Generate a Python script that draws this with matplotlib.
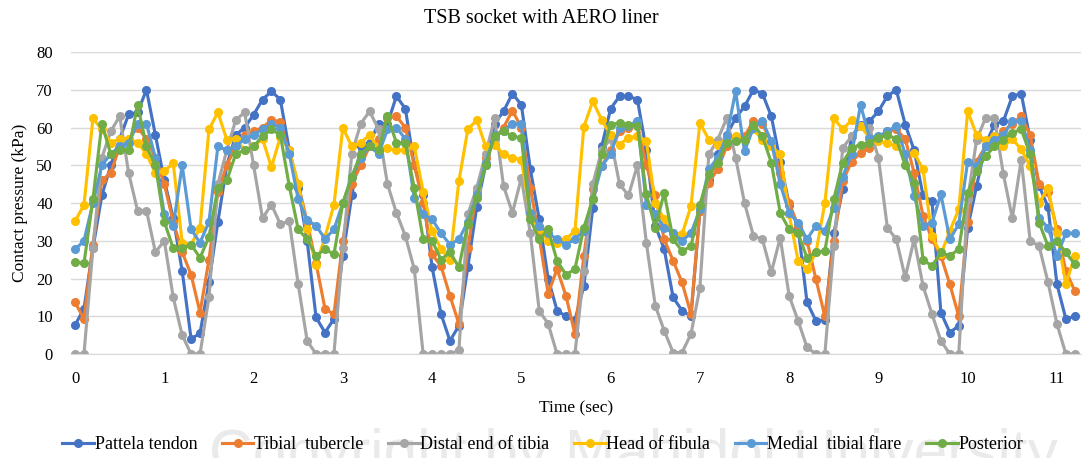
import numpy as np
import matplotlib
matplotlib.use("Agg")
import matplotlib.pyplot as plt

# sample times, 0.1 s apart
time_sec = [round(i * 0.1, 1) for i in range(113)]

pattela_tendon = [
    7.7, 12, 28, 42, 50, 57, 63.5, 64, 70, 58,
    46, 36, 22, 4, 5.5, 19, 35, 50, 58, 60,
    63.4, 67.4, 69.6, 67.4, 54, 44, 30, 9.7, 5.7, 9.3,
    26, 42, 55, 56, 61, 61, 68.3, 65, 50, 42,
    23, 10.6, 3.5, 7.5, 23, 39, 50, 61, 64.3, 69,
    66, 49, 35.7, 20, 11.5, 10, 9, 18, 38.8, 55,
    65, 68.3, 68.3, 67.4, 54, 34, 27.8, 15, 11.5, 10,
    38, 46, 53, 58, 62.5, 65.6, 70, 69, 63, 51,
    39.6, 33.5, 13.7, 8.8, 9, 32, 43.6, 57.7, 60.8, 61.7,
    64.3, 68.3, 70, 60.8, 54, 42, 40.5, 11, 5.7, 7.5,
    33.5, 44.5, 55.5, 60.8, 61.7, 68.3, 69, 56.8, 44.5, 39,
    18.5, 9.3, 10,
]

tibial_tubercle = [
    13.7, 9.3, 29, 46, 48, 55, 57, 60, 57, 52,
    45, 35, 27, 21, 11, 25, 43, 50, 55, 58,
    59, 60, 62, 61.5, 53, 45, 35, 24, 12, 10.5,
    30, 45, 50, 55, 57, 62.5, 63, 60, 50, 40,
    26.4, 23.3, 15.4, 8, 28, 43, 52, 57, 60, 64.5,
    60, 44, 31, 16, 22.5, 15.4, 5.3, 26, 43.6, 49.8,
    54, 59, 60, 61, 50, 42, 30.4, 24.7, 19, 10.6,
    38, 45.4, 49, 55, 57, 57.7, 61.7, 61, 56, 48,
    40, 34, 30, 19.8, 10, 30, 45.8, 51, 53.3, 54.6,
    56.8, 59, 59.5, 57, 48, 36.6, 30.4, 26, 18.5, 10,
    35, 51, 55, 57, 59, 61, 63, 58, 45, 43,
    33, 22, 16.7,
]

distal_end_tibia = [
    0, 0, 28, 52, 59, 63, 48, 38, 38, 27,
    30, 15, 5, 0, 0, 15, 45, 54, 62, 64,
    50, 36, 39.6, 34.4, 35.2, 18.5, 3.5, 0, 0, 0,
    28, 53, 61, 64.3, 59.5, 45, 37.4, 31.3, 22.5, 0,
    0, 0, 0, 1, 37, 44, 53, 62.5, 44.5, 37.4,
    46.7, 32, 11.5, 8, 0, 0, 0, 22, 45, 54,
    57, 45, 42, 50, 29.5, 12.8, 6.2, 0.4, 0.4, 5.3,
    17.6, 52.9, 56.8, 62.5, 52, 40, 31.3, 30.4, 21.6, 30.8,
    15.4, 8.8, 1.8, 0, 0, 28.6, 54.6, 57.7, 60.4, 60,
    52, 33.5, 30.4, 20.3, 30.4, 18, 10.6, 3.5, 0, 0,
    41, 56.8, 62.5, 62.4, 47.6, 36, 51.5, 30, 28.6, 19,
    8, 0, 0,
]

head_fibula = [
    35.2, 39.5, 62.4, 59.5, 56, 57, 57, 56, 53, 48,
    48.5, 50.5, 29.5, 29, 33.5, 59.5, 64, 56.8, 57, 54,
    55, 57, 49.5, 57.5, 54, 45, 33, 23.5, 31, 39.5,
    60, 55, 56, 58, 54.5, 54.5, 54, 54, 55, 43,
    32.6, 27.8, 25, 45.8, 59.5, 62, 55, 55.5, 52.9, 52,
    51.5, 37, 33, 30, 29.5, 30.5, 32.6, 60.2, 67, 62,
    58, 55.5, 57.3, 57.7, 56.4, 40, 35.7, 32, 31.7, 39.2,
    61.2, 56.8, 55.5, 56.8, 57.7, 56.8, 59.5, 56.8, 55, 52.9,
    37, 24.7, 22.5, 26.9, 40, 62.5, 59.5, 62, 60.4, 57.3,
    56.4, 56, 55, 52.9, 53.3, 48.9, 31.3, 26.4, 32.6, 38.3,
    64.3, 58, 56.8, 57.7, 55, 57, 54.2, 49.8, 40, 44,
    32, 18.5, 26,
]

medial_tibial_flare = [
    27.7, 30, 40, 50, 53, 55, 56, 61, 61, 52,
    37, 34, 50, 33, 29.5, 35, 55, 54, 55, 57,
    58, 59.5, 61, 60, 53, 41, 35.5, 34, 30.5, 33,
    40, 47, 52, 55, 53, 59.5, 60, 57, 41.4, 37,
    35.7, 32, 29, 30.4, 35, 42, 50.7, 58, 59, 61,
    61, 37.4, 34, 32, 30.4, 29, 30.4, 32.6, 41, 49.8,
    52.9, 60, 60.5, 61.7, 39.6, 37, 33.5, 32, 30, 32,
    38.3, 49, 52, 57.7, 69.6, 53.7, 60, 61.7, 56.4, 45,
    37.4, 34.8, 30.4, 34, 32.6, 38.8, 47, 53, 66, 57.3,
    57.7, 59, 60.4, 53, 41.8, 34, 34.8, 42.3, 30.4, 34.4,
    51, 49.8, 55, 56.8, 58, 61.7, 61.7, 54, 36, 33.5,
    26, 32, 32,
]

posterior = [
    24.5, 24, 41, 61, 53, 54, 54, 66, 55, 50,
    35, 28, 28, 29, 25.5, 31, 44, 46, 53, 54,
    55, 57.7, 59.5, 58, 44.5, 33, 30.4, 26, 27.8, 26.4,
    40, 47, 53, 55, 54, 63, 56, 56, 44, 30.4,
    30, 25, 27, 23, 34.4, 41.4, 50, 57.7, 59, 57.7,
    57.3, 35.7, 30.4, 33, 24.7, 21, 22.5, 33.5, 41, 52.9,
    60.8, 61.2, 60.8, 60.5, 42.3, 33.5, 42.7, 30.4, 27.3, 28.5,
    39.6, 47.6, 50.7, 56, 56.4, 56.8, 60.8, 57.7, 50.7, 37.4,
    33, 32, 25.5, 26.9, 27.3, 41, 50.7, 54.6, 55.5, 56,
    57.3, 58, 57, 50, 45.4, 25, 23.3, 26.9, 26, 27.8,
    42.7, 48.5, 52.4, 55, 56.8, 58.6, 59.5, 52.9, 34.8, 28.6,
    30, 26.9, 23.8,
]

series_names = ["Pattela tendon", "Tibial  tubercle", "Distal end of tibia",
                "Head of fibula", "Medial  tibial flare", "Posterior"]
series_values = [pattela_tendon, tibial_tubercle, distal_end_tibia,
                 head_fibula, medial_tibial_flare, posterior]
colors = ["#4472C4", "#ED7D31", "#A5A5A5", "#FFC000", "#5B9BD5", "#70AD47"]

plt.rcParams['font.family'] = ['Liberation Serif', 'DejaVu Serif']

fig = plt.figure(figsize=(10.83, 4.58), dpi=100)
ax = fig.add_axes([0.0656, 0.227, 0.9326, 0.6594])
ax.set_zorder(2)

for name, vals, col in zip(series_names, series_values, colors):
    ax.plot(time_sec, vals, color=col, lw=2.25, marker='o', markersize=5.5,
            label=name, solid_joinstyle='round')

ax.set_xlim(-0.045, 11.27)
ax.set_ylim(0, 80)
ax.set_xticks(np.arange(0, 12, 1))
ax.set_yticks(np.arange(0, 81, 10))
ax.yaxis.grid(True, color='#D9D9D9', lw=1)
ax.set_axisbelow(True)
for side in ['top', 'right', 'left']:
    ax.spines[side].set_visible(False)
ax.spines['bottom'].set_color('#D9D9D9')
ax.tick_params(axis='both', length=0, labelsize=12)
ax.tick_params(axis='x', pad=12)
ax.tick_params(axis='y', pad=13)

fig.text(0.5, 0.96, 'TSB socket with AERO liner', fontsize=14.5,
         ha='center', va='center')
ax.set_xlabel('Time (sec)', fontsize=12.5)
ax.xaxis.set_label_coords(0.5, -0.179)
ax.xaxis.label.set_va('center')
ax.set_ylabel('Contact pressure (kPa)', fontsize=12.5)
ax.yaxis.set_label_coords(-0.0505, 0.5)
ax.yaxis.label.set_va('center')

ax.legend(loc='center', bbox_to_anchor=(0.467, -0.30), ncol=6, frameon=False,
          fontsize=13, handlelength=1.75, columnspacing=1.35, handletextpad=0.05,
          borderaxespad=0)

fig.text(0.585, -0.028, 'Copyright by Mahidol University', fontsize=43.5,
         color='#EAEAEA', ha='center', va='baseline', family='Liberation Sans',
         zorder=0)

plt.savefig('out.png', dpi=100)
